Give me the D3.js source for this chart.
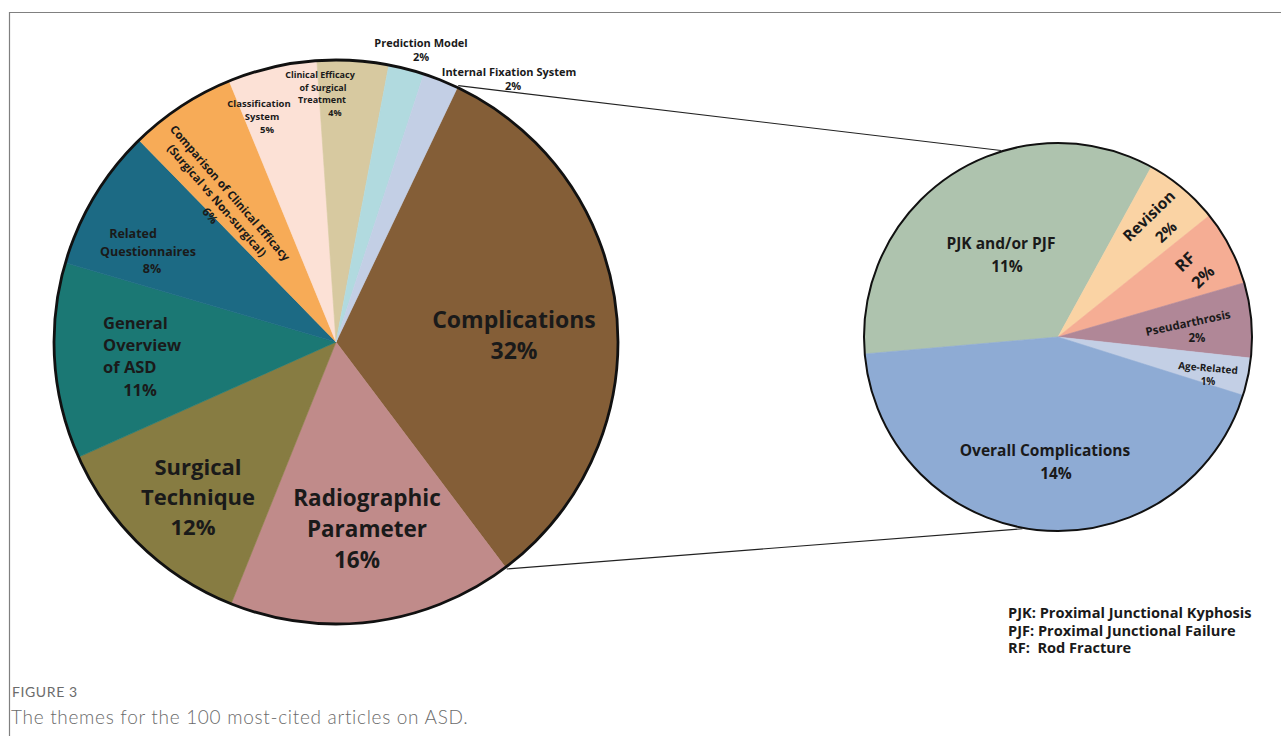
<!DOCTYPE html>
<html>
<head>
<meta charset="utf-8">
<script src="https://cdn.jsdelivr.net/npm/d3@7"></script>
<style>
  html, body { margin: 0; padding: 0; background: #fff; }
  svg { display: block; }
  text { font-family: "Open Sans", "Noto Sans", sans-serif; }
</style>
</head>
<body>
<svg id="chart" width="1281" height="736"></svg>
<script>
// ---- Theme breakdown (all 100 articles) ----
const mainCategories = [
  "Complications",
  "Radiographic Parameter",
  "Surgical Technique",
  "General Overview of ASD",
  "Related Questionnaires",
  "Comparison of Clinical Efficacy (Surgical vs Non-surgical)",
  "Classification System",
  "Clinical Efficacy of Surgical Treatment",
  "Prediction Model",
  "Internal Fixation System"
];
const mainValues = [32, 16, 12, 11, 8, 6, 5, 4, 2, 2];
const mainColors = [
  "#845e37", "#c08b8a", "#877c42", "#1b7874", "#1c6a84",
  "#f7ab57", "#fce1d6", "#d7c9a0", "#b1dadf", "#c3cfe5"
];

// ---- Breakdown of the "Complications" theme ----
const subCategories = [
  "PJK and/or PJF",
  "Revision",
  "RF",
  "Pseudarthrosis",
  "Age-Related",
  "Overall Complications"
];
const subValues = [11, 2, 2, 2, 1, 14];
const subColors = ["#aec3ae", "#fad3a4", "#f5ad94", "#b08797", "#c3cfe5", "#8eabd4"];

const legendLines = [
  "PJK: Proximal Junctional Kyphosis",
  "PJF: Proximal Junctional Failure",
  "RF:  Rod Fracture"
];
const captionTitle = "FIGURE 3";
const captionText = "The themes for the 100 most-cited articles on ASD.";

// ---- Layout ----
const rad = d => d * Math.PI / 180;
const main = { cx: 336, cy: 342, r: 282, start: 25.5 };
const sub  = { cx: 1058, cy: 337, r: 194, start: -95 };

// text blocks: lines of the name, then the percentage line
const mainLabels = [
  { lines: ["Complications"], x: 514, y: 320, size: 23, gap: 31 },
  { lines: ["Radiographic", "Parameter"], x: 367, y: 498, size: 22.5, gap: 31, pctX: 357 },
  { lines: ["Surgical", "Technique"], x: 198, y: 467, size: 22, gap: 30, pctX: 193 },
  { lines: ["General", "Overview", "of ASD"], x: 103, y: 323, size: 16.5, gap: 22.3, anchor: "start", pctX: 140 },
  { lines: ["Related", "Questionnaires"], x: 148, y: 234, size: 12.5, gap: 17.5, lineX: [133, 148], pctX: 152 },
  // rotated block: per-line offsets along (x) and across (y) the text direction
  { lines: ["Comparison of Clinical Efficacy", "(Surgical vs Non-surgical)"], x: 230, y: 193, size: 11.5,
    rotate: 49, block: [[0, 0], [-3, 15], [4, 30]] },
  { lines: ["Classification", "System"], x: 259, y: 104, size: 9.5, gap: 13, lineX: [259, 262], pctX: 267 },
  { lines: ["Clinical Efficacy", "of Surgical", "Treatment"], x: 320, y: 75, size: 9, gap: 12.6, lineX: [320, 323, 322], pctX: 335 },
  { lines: ["Prediction Model"], x: 421, y: 43, size: 11, gap: 14 },
  { lines: ["Internal Fixation System"], x: 509, y: 72, size: 11, gap: 14, pctX: 513 }
];
const subLabels = [
  { lines: ["PJK and/or PJF"], x: 1001, y: 244, size: 15.5, gap: 23, pctX: 1007 },
  { lines: ["Revision"], x: 1149, y: 216, size: 15.5, rotate: -44, pctPos: [1166, 232] },
  { lines: ["RF"], x: 1185, y: 262, size: 16.5, rotate: -44, pctPos: [1203, 277] },
  { lines: ["Pseudarthrosis"], x: 1188, y: 323, size: 11.5, rotate: -12, pctPos: [1197, 338], pctSize: 11.5, pctRotate: 0 },
  { lines: ["Age-Related"], x: 1208, y: 368, size: 10, rotate: 5, pctPos: [1208, 381], pctSize: 10, pctRotate: 0 },
  { lines: ["Overall Complications"], x: 1045, y: 451, size: 15.5, gap: 23, pctX: 1056 }
];

const svg = d3.select("#chart");

// figure frame
svg.append("path")
  .attr("d", "M9.5,736 V12.5 H1281")
  .attr("fill", "none")
  .attr("stroke", "#808080")
  .attr("stroke-width", 1.2);

function drawPie(cfg, values, colors, strokeW) {
  const pie = d3.pie().sort(null).value(d => d)
    .startAngle(rad(cfg.start)).endAngle(rad(cfg.start + 360));
  const arcs = pie(values);
  const arc = d3.arc().innerRadius(0).outerRadius(cfg.r);
  const g = svg.append("g").attr("transform", `translate(${cfg.cx},${cfg.cy})`);
  g.selectAll("path.slice").data(arcs).join("path")
    .attr("class", "slice")
    .attr("d", arc)
    .attr("fill", (d, i) => colors[i])
    .attr("stroke", (d, i) => colors[i])
    .attr("stroke-width", 0.6);
  g.append("circle")
    .attr("r", cfg.r)
    .attr("fill", "none")
    .attr("stroke", "#111")
    .attr("stroke-width", strokeW);
  return arcs;
}

const mainArcs = drawPie(main, mainValues, mainColors, 2.8);
const subArcs = drawPie(sub, subValues, subColors, 2);

// connector lines from the Complications slice to the breakdown pie
const onCircle = (cfg, a, extra = 0) => [
  cfg.cx + (cfg.r + extra) * Math.sin(a),
  cfg.cy - (cfg.r + extra) * Math.cos(a)
];
const comp = mainArcs[0];
const connectors = [
  [onCircle(main, comp.startAngle, 2), onCircle(sub, rad(-17), 1)],
  [onCircle(main, comp.endAngle, 2), onCircle(sub, rad(190.5), 1)]
];
svg.selectAll("line.connector").data(connectors).join("line")
  .attr("class", "connector")
  .attr("x1", d => d[0][0]).attr("y1", d => d[0][1])
  .attr("x2", d => d[1][0]).attr("y2", d => d[1][1])
  .attr("stroke", "#222")
  .attr("stroke-width", 1.1);

function drawLabels(labels, values) {
  labels.forEach((L, i) => {
    const pct = values[i] + "%";
    const g = svg.append("g").attr("fill", "#1a1a1a").attr("font-weight", 700);
    const gap = L.gap || L.size * 1.3;
    if (L.block) {
      const all = L.lines.concat([pct]);
      const blk = g.append("g").attr("transform", `translate(${L.x},${L.y}) rotate(${L.rotate})`);
      all.forEach((t, k) => {
        blk.append("text")
          .attr("x", L.block[k][0])
          .attr("y", L.block[k][1])
          .attr("dy", "0.35em")
          .attr("text-anchor", "middle")
          .attr("font-size", L.size)
          .text(t);
      });
      return;
    }
    if (L.pctPos) {
      g.append("text")
        .attr("transform", `translate(${L.x},${L.y}) rotate(${L.rotate || 0})`)
        .attr("dy", "0.35em")
        .attr("text-anchor", "middle")
        .attr("font-size", L.size)
        .text(L.lines[0]);
      g.append("text")
        .attr("transform", `translate(${L.pctPos[0]},${L.pctPos[1]}) rotate(${L.pctRotate !== undefined ? L.pctRotate : (L.rotate || 0)})`)
        .attr("dy", "0.35em")
        .attr("text-anchor", "middle")
        .attr("font-size", L.pctSize || L.size)
        .text(pct);
      return;
    }
    L.lines.forEach((t, k) => {
      g.append("text")
        .attr("x", L.lineX ? L.lineX[k] : L.x)
        .attr("y", L.y + k * gap)
        .attr("dy", "0.35em")
        .attr("text-anchor", L.anchor || "middle")
        .attr("font-size", L.size)
        .text(t);
    });
    g.append("text")
      .attr("x", L.pctX !== undefined ? L.pctX : L.x)
      .attr("y", L.y + L.lines.length * gap)
      .attr("dy", "0.35em")
      .attr("text-anchor", "middle")
      .attr("font-size", L.size)
      .text(pct);
  });
}
drawLabels(mainLabels, mainValues);
drawLabels(subLabels, subValues);

// abbreviation legend
svg.append("g").selectAll("text").data(legendLines).join("text")
  .attr("x", 1008)
  .attr("y", (d, i) => 613 + i * 17.5)
  .attr("dy", "0.35em")
  .attr("font-size", 14.6)
  .attr("font-weight", 700)
  .attr("fill", "#1a1a1a")
  .style("white-space", "pre")
  .text(d => d);

// caption
svg.append("text")
  .attr("x", 12).attr("y", 697)
  .attr("font-size", 14)
  .attr("fill", "#6b6b6b")
  .attr("letter-spacing", 0.6)
  .style("font-family", "Lato, 'Open Sans', sans-serif")
  .text(captionTitle);
svg.append("text")
  .attr("x", 11).attr("y", 724)
  .attr("font-size", 19)
  .attr("fill", "#6b6b6b")
  .attr("letter-spacing", 0.7)
  .style("font-family", "Lato, 'Open Sans', sans-serif")
  .attr("font-weight", 300)
  .text(captionText);
</script>
</body>
</html>
